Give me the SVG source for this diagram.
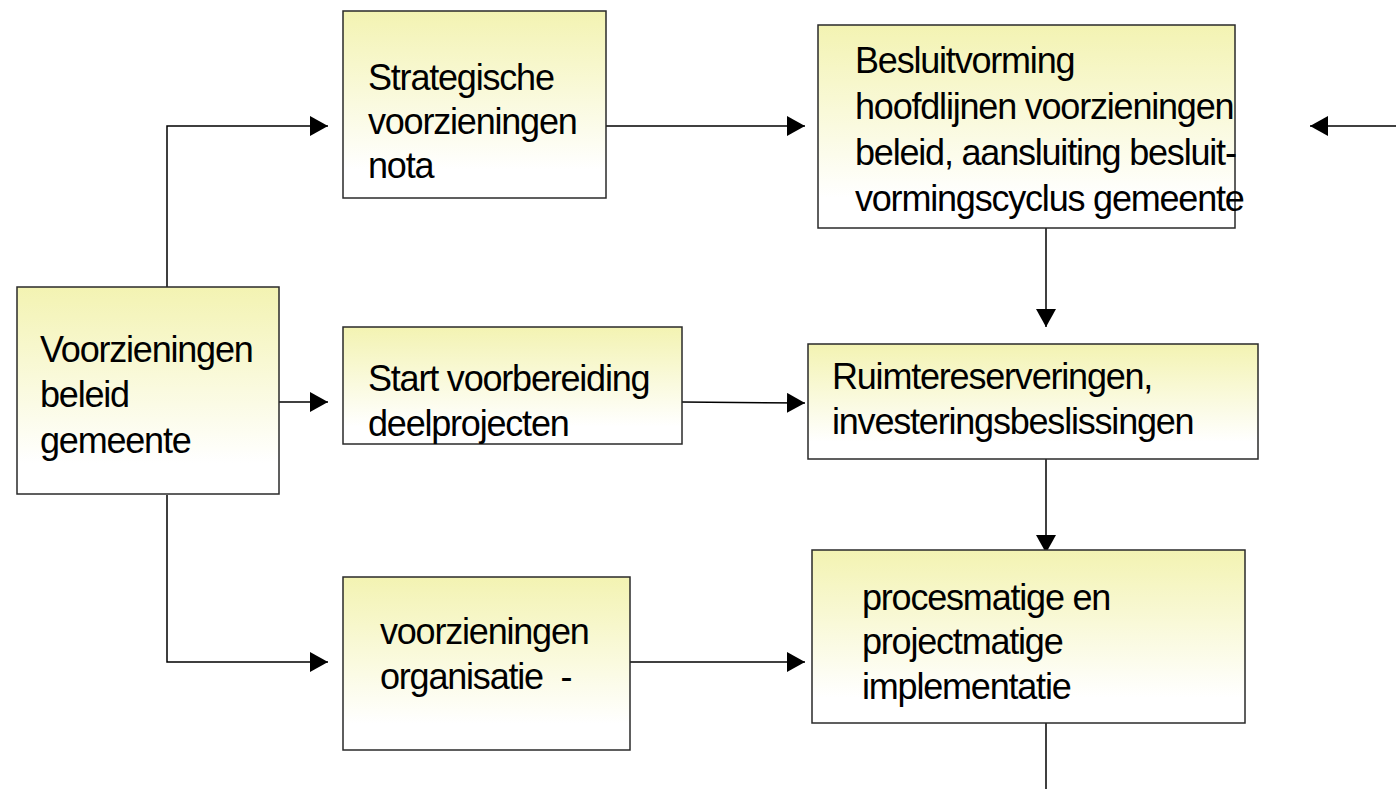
<svg xmlns="http://www.w3.org/2000/svg" width="1396" height="789" viewBox="0 0 1396 789">
<defs>
<linearGradient id="fill" x1="0" y1="0" x2="0" y2="1">
<stop offset="0" stop-color="#F3F3B2"/>
<stop offset="0.85" stop-color="#FFFFFF"/>
<stop offset="1" stop-color="#FFFFFF"/>
</linearGradient>
<marker id="arr" markerUnits="userSpaceOnUse" markerWidth="18" markerHeight="20" refX="18" refY="10" orient="auto">
<path d="M0,0 L18,10 L0,20 Z" fill="#000"/>
</marker>
<style>
.box{fill:url(#fill);stroke:#2a2a2a;stroke-width:1.5}
.t{font-family:"Liberation Sans",Arial,sans-serif;font-size:36px;letter-spacing:-1.2px;fill:#000;white-space:pre}
.c{fill:none;stroke:#000;stroke-width:1.5}
.a{marker-end:url(#arr)}
</style>
</defs>
<g id="connectors">
<polyline class="c a" points="167,287 167,126 328,126"/>
<polyline class="c a" points="167,495 167,662 328,662"/>
<line class="c a" x1="279" y1="402" x2="328" y2="402"/>
<line class="c a" x1="606" y1="126" x2="805" y2="126"/>
<line class="c a" x1="682" y1="402" x2="805" y2="403"/>
<line class="c a" x1="630" y1="662" x2="805" y2="662"/>
<line class="c a" x1="1046" y1="228" x2="1046" y2="327"/>
<line class="c a" x1="1046" y1="459" x2="1046" y2="553"/>
<line class="c a" x1="1396" y1="126" x2="1310" y2="126"/>
<line class="c" x1="1046" y1="723" x2="1046" y2="789"/>
</g>
<g id="n1">
<rect class="box" x="17" y="287" width="262" height="207"/>
<text class="t" x="40" y="362">Voorzieningen</text>
<text class="t" x="40" y="407">beleid</text>
<text class="t" x="40" y="453">gemeente</text>
</g>
<g id="n2">
<rect class="box" x="343" y="11" width="263" height="187"/>
<text class="t" x="368" y="90">Strategische</text>
<text class="t" x="368" y="134">voorzieningen</text>
<text class="t" x="368" y="178">nota</text>
</g>
<g id="n3">
<rect class="box" x="818" y="25" width="417" height="203"/>
<text class="t" x="855" y="73">Besluitvorming</text>
<text class="t" x="855" y="119">hoofdlijnen voorzieningen</text>
<text class="t" x="855" y="165">beleid, aansluiting besluit-</text>
<text class="t" x="855" y="211">vormingscyclus gemeente</text>
</g>
<g id="n4">
<rect class="box" x="343" y="327" width="339" height="117"/>
<text class="t" x="368" y="391">Start voorbereiding</text>
<text class="t" x="368" y="436">deelprojecten</text>
</g>
<g id="n5">
<rect class="box" x="808" y="344" width="450" height="115"/>
<text class="t" x="832" y="389">Ruimtereserveringen,</text>
<text class="t" x="832" y="434">investeringsbeslissingen</text>
</g>
<g id="n6">
<rect class="box" x="812" y="550" width="433" height="173"/>
<text class="t" x="862" y="610">procesmatige en</text>
<text class="t" x="862" y="654">projectmatige</text>
<text class="t" x="862" y="699">implementatie</text>
</g>
<g id="n7">
<rect class="box" x="343" y="577" width="287" height="173"/>
<text class="t" x="380" y="644">voorzieningen</text>
<text class="t" x="380" y="689">organisatie  -</text>
</g>
</svg>
